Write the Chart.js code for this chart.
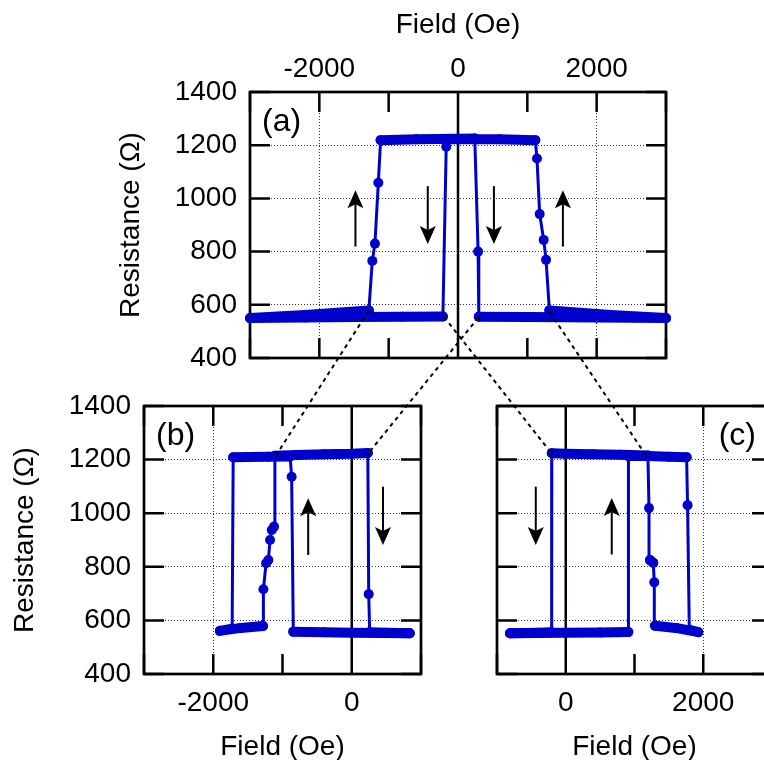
<!DOCTYPE html>
<html>
<head>
<meta charset="utf-8">
<script src="https://cdn.jsdelivr.net/npm/chart.js@4.4.1/dist/chart.umd.min.js"></script>
<style>
html, body { margin: 0; padding: 0; background: #fff; overflow: hidden; }
#wrap { position: relative; width: 764px; height: 760px; overflow: hidden; }
canvas { position: absolute; }
#ca { left: 0; top: 0; }
#cb { left: 0; top: 385px; }
#cc { left: 440px; top: 385px; }
#links { left: 0; top: 0; pointer-events: none; }
</style>
</head>
<body>
<div id="wrap">
  <canvas id="ca" width="764" height="385"></canvas>
  <canvas id="cb" width="440" height="385"></canvas>
  <canvas id="cc" width="340" height="385"></canvas>
  <canvas id="links" width="764" height="760"></canvas>
</div>
<script>
// panel (a): full loop, field in Oe, resistance in ohm (in sweep order)
const fieldA = [0, -165, -170, -218, -800, -1500, -2200, -3000, -2200, -1286, -1236, -1198, -1149, -1116, -600, 0,
                242, 290, 300, 1000, 2000, 3000, 2200, 1318, 1270, 1236, 1178, 1139, 1115, 600, 0];
const resA   = [1222, 1222, 1194, 556, 555, 554, 552, 550, 562, 579, 765, 830, 1059, 1219, 1222, 1224,
                1225, 800, 555, 554, 552, 550, 562, 579, 769, 844, 941, 1150, 1219, 1222, 1222];

// panel (b): negative-field minor loop
const fieldB = [835, 400, 0, -400, -844, -868, -890, -1200, -1500, -1712, -1727, -1904, -1600, -1281, -1276, -1237,
                -1204, -1180, -1155, -1122, -1110, -800, -400, 0, 232, 245, 259, 500, 835];
const resB   = [552, 553, 554, 556, 558, 1136, 1212, 1211, 1210, 1209, 569, 561, 572, 579, 716, 813,
                825, 900, 937, 950, 1214, 1217, 1220, 1222, 1225, 698, 556, 554, 552];

// panel (c): positive-field minor loop
const fieldC = [-809, -400, 0, 500, 910, 912, 1200, 1500, 1758, 1772, 1797, 1927, 1600, 1298, 1288, 1273,
                1225, 1211, 1195, 800, 400, 0, -203, -205, -400, -809];
const resC   = [552, 553, 554, 555, 557, 1213, 1213, 1211, 1209, 1030, 565, 556, 572, 580, 742, 815,
                825, 1019, 1215, 1218, 1220, 1222, 1224, 556, 554, 552];

// sweep arrows: [field, from R, to R]
const arrowsA = [[-1479, 819, 1031], [-436, 1046, 829], [518, 1046, 829], [1513, 819, 1031]];
const arrowsB = [[-629, 844, 1056], [451, 1099, 881]];
const arrowsC = [[-436, 1099, 881], [669, 846, 1057]];

// zoom connectors: [field in (a), R in (a), field in inset, R in inset]
const linksB = [[-1290, 577, -1080, 1221], [293, 552, 235, 1222]];
const linksC = [[-200, 554, -203, 1222], [1325, 572, 1153, 1221]];

const BLUE = '#0000cc';
const GRID = '#333';
const FONT = "'Liberation Sans', Arial, Helvetica, sans-serif";
const TICK = 20;

Chart.defaults.font.family = FONT;
Chart.defaults.font.size = 28;
Chart.defaults.color = '#000';

function series(f, r) {
    return f.map((v, i) => ({x: v, y: r[i]}));
}

const decor = {
    id: 'decor',
    beforeDatasetsDraw(chart) {
        const {ctx, chartArea: a, scales: {x, y}} = chart;
        ctx.save();
        ctx.strokeStyle = '#000';
        ctx.lineWidth = 2.5;
        ctx.beginPath();
        const z = x.getPixelForValue(0);
        ctx.moveTo(z, a.top);
        ctx.lineTo(z, a.bottom);
        x.ticks.forEach(t => {
            const p = x.getPixelForValue(t.value);
            ctx.moveTo(p, a.top); ctx.lineTo(p, a.top + TICK);
            ctx.moveTo(p, a.bottom); ctx.lineTo(p, a.bottom - TICK);
        });
        y.ticks.forEach(t => {
            const p = y.getPixelForValue(t.value);
            ctx.moveTo(a.left, p); ctx.lineTo(a.left + TICK, p);
            ctx.moveTo(a.right, p); ctx.lineTo(a.right - TICK, p);
        });
        ctx.stroke();
        ctx.lineWidth = 2.7;
        ctx.strokeRect(a.left, a.top, a.right - a.left, a.bottom - a.top);
        ctx.restore();
    },
    afterDatasetsDraw(chart, args, o) {
        const {ctx, chartArea: a, scales: {x, y}} = chart;
        ctx.save();
        ctx.strokeStyle = '#000';
        ctx.fillStyle = '#000';
        (o.arrows || []).forEach(([f, r0, r1]) => {
            const px = x.getPixelForValue(f);
            const y0 = y.getPixelForValue(r0);
            const y1 = y.getPixelForValue(r1);
            const d = Math.sign(y1 - y0);
            ctx.lineWidth = 2;
            ctx.beginPath();
            ctx.moveTo(px, y0);
            ctx.lineTo(px, y1 - d * 14);
            ctx.stroke();
            ctx.beginPath();
            ctx.moveTo(px, y1);
            ctx.lineTo(px - 8, y1 - d * 18);
            ctx.lineTo(px, y1 - d * 14);
            ctx.lineTo(px + 8, y1 - d * 18);
            ctx.closePath();
            ctx.fill();
        });
        if (o.label) {
            ctx.font = '32px ' + FONT;
            ctx.textBaseline = 'middle';
            ctx.textAlign = o.right ? 'right' : 'left';
            ctx.fillText(o.label, o.right ? a.right - 16 : a.left + 12, a.top + 30);
        }
        ctx.restore();
    }
};

function makeChart(id, f, r, xmin, xmax, xgrid, opt) {
    const xAxis = {
        type: 'linear',
        position: opt.xTop ? 'top' : 'bottom',
        min: xmin,
        max: xmax,
        ticks: {
            stepSize: 1000,
            autoSkip: false,
            maxRotation: 0,
            minRotation: 0,
            padding: opt.xTop ? 6 : 12,
            callback: v => (v % 2000 === 0 ? String(v) : '')
        },
        grid: {
            drawTicks: false,
            lineWidth: 1,
            color: c => (c.tick && xgrid.includes(c.tick.value) ? GRID : 'rgba(0,0,0,0)')
        },
        border: { display: false, dash: [1, 2] },
        title: {
            display: true,
            text: 'Field (Oe)',
            padding: opt.xTop ? {top: 8, bottom: 0} : {top: 0, bottom: 6}
        },
        afterFit: s => { s.height = opt.xSize; s.paddingLeft = 0; s.paddingRight = 0; }
    };
    const yAxis = {
        type: 'linear',
        min: 400,
        max: 1400,
        ticks: {
            stepSize: 200,
            padding: 13,
            display: opt.yLabels,
            callback: v => String(v)
        },
        grid: {
            drawTicks: false,
            lineWidth: 1,
            color: c => (c.tick && c.tick.value > 400 && c.tick.value < 1400 ? GRID : 'rgba(0,0,0,0)')
        },
        border: { display: false, dash: [1, 2] },
        title: {
            display: opt.yLabels,
            text: 'Resistance (\u03A9)',
            padding: {top: opt.yTitlePad, bottom: 0}
        },
        afterFit: s => { s.width = opt.ySize; s.paddingTop = 0; s.paddingBottom = 0; }
    };
    return new Chart(document.getElementById(id), {
        type: 'scatter',
        data: {
            datasets: [{
                data: series(f, r),
                showLine: true,
                borderColor: BLUE,
                backgroundColor: BLUE,
                pointBorderColor: BLUE,
                pointRadius: 5,
                pointHoverRadius: 5,
                pointBorderWidth: 0,
                borderWidth: 3,
                tension: 0,
                borderCapStyle: 'round',
                borderJoinStyle: 'round',
                clip: false,
                segment: {
                    borderWidth: c => (Math.abs(c.p1.x - c.p0.x) > Math.abs(c.p1.y - c.p0.y) ? 10 : 3)
                }
            }]
        },
        options: {
            responsive: false,
            animation: false,
            layout: { padding: opt.pad },
            plugins: {
                legend: { display: false },
                tooltip: { enabled: false },
                decor: { arrows: opt.arrows, label: opt.label, right: opt.labelRight }
            },
            scales: { x: xAxis, y: yAxis }
        },
        plugins: [decor]
    });
}

const chartA = makeChart('ca', fieldA, resA, -3000, 3000, [-2000, 2000], {
    xTop: true, xSize: 92, ySize: 250, yLabels: true, yTitlePad: 114,
    pad: {top: 0, left: 0, right: 98, bottom: 27},
    arrows: arrowsA, label: '(a)'
});
const chartB = makeChart('cb', fieldB, resB, -3000, 1000, [-2000], {
    xTop: false, xSize: 96, ySize: 144, yLabels: true, yTitlePad: 8,
    pad: {top: 21, left: 0, right: 19, bottom: 0},
    arrows: arrowsB, label: '(b)'
});
const chartC = makeChart('cc', fieldC, resC, -1000, 3000, [2000], {
    xTop: false, xSize: 96, ySize: 0, yLabels: false, yTitlePad: 0,
    pad: {top: 21, left: 57, right: 8, bottom: 0},
    arrows: arrowsC, label: '(c)', labelRight: true
});

// dashed zoom connectors, placed through the scales of both panels
function pagePos(chart, f, r) {
    const el = chart.canvas;
    return [el.offsetLeft + chart.scales.x.getPixelForValue(f), el.offsetTop + chart.scales.y.getPixelForValue(r)];
}
const lc = document.getElementById('links').getContext('2d');
lc.strokeStyle = '#000';
lc.fillStyle = '#000';
lc.lineWidth = 2;
lc.setLineDash([4, 4]);
[[chartB, linksB], [chartC, linksC]].forEach(([inset, links]) => {
    links.forEach(([fa, ra, fi, ri]) => {
        const p0 = pagePos(chartA, fa, ra);
        const p1 = pagePos(inset, fi, ri);
        lc.beginPath();
        lc.moveTo(p0[0], p0[1]);
        lc.lineTo(p1[0], p1[1]);
        lc.stroke();
        [p0, p1].forEach(p => {
            lc.beginPath();
            lc.arc(p[0], p[1], 1.5, 0, Math.PI * 2);
            lc.fill();
        });
    });
});
</script>
</body>
</html>
